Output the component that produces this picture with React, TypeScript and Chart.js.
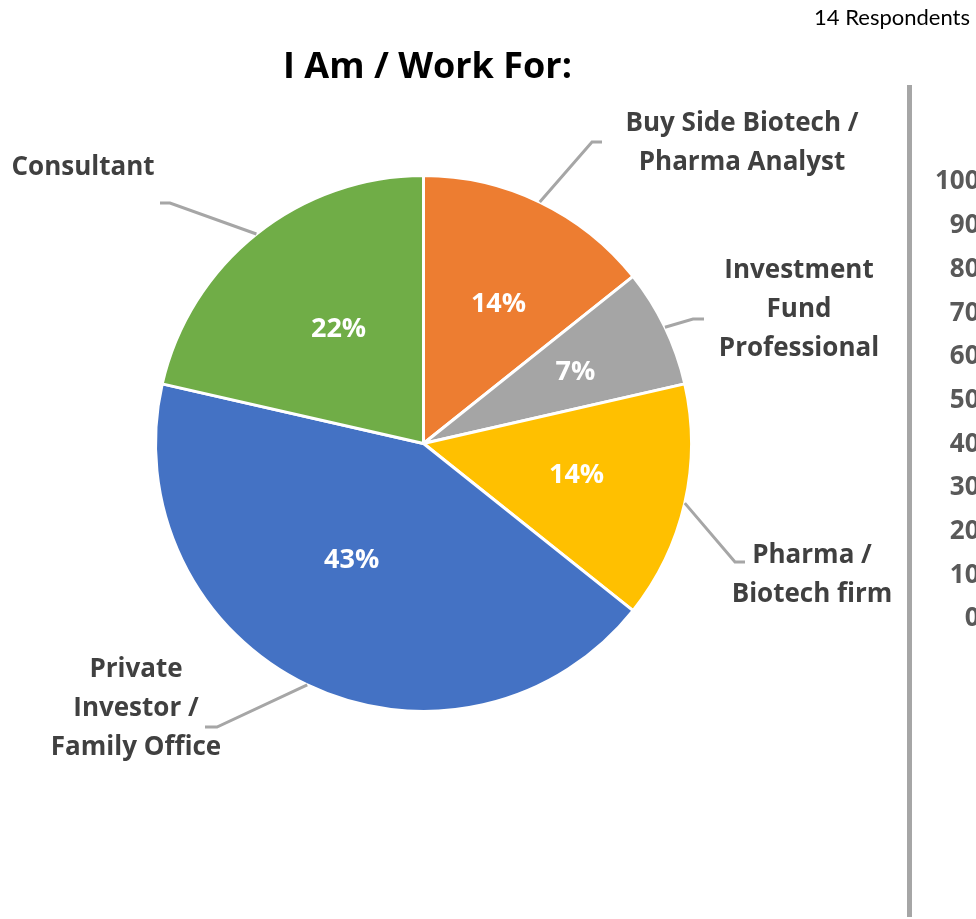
import React, { useEffect, useRef } from "react";
import { Chart, registerables } from "chart.js";

Chart.register(...registerables);

// ---------- data ----------
const categories = [
  "Buy Side Biotech / Pharma Analyst",
  "Investment Fund Professional",
  "Pharma / Biotech firm",
  "Private Investor / Family Office",
  "Consultant",
];
const categoryLines = [
  ["Buy Side Biotech /", "Pharma Analyst"],
  ["Investment", "Fund", "Professional"],
  ["Pharma /", "Biotech firm"],
  ["Private", "Investor /", "Family Office"],
  ["Consultant"],
];
const respondentCounts = [2, 1, 2, 6, 3];
const percentLabels = ["14%", "7%", "14%", "43%", "22%"];
const sliceColors = ["#ED7D31", "#A5A5A5", "#FFC000", "#4472C4", "#70AD47"];
const titleText = "I Am / Work For:";
const respondentsText = "14 Respondents";
const axisMin = 0;
const axisMax = 100;
const axisStep = 10;

// ---------- layout / style ----------
const BOLD_FONT = "'Open Sans', Lato, sans-serif";
const REG_FONT = "Lato, 'Open Sans', sans-serif";
const LABEL_SIZE = 26;
const PCT_SIZE = 27;
const CAP = 0.357;
const LINE_GAP = 39;
const labelLayout = [
  { cx: 742, capMid: 121.5, elbow: [592, 142], end: [602, 142] },
  { cx: 799, capMid: 268.5, elbow: [693, 319], end: [704, 319] },
  { cx: 812, capMid: 554, elbow: [735, 562], end: [745, 562] },
  { cx: 136, capMid: 668, elbow: [217, 727], end: [205, 727] },
  { cx: 83, capMid: 166, elbow: [170, 203], end: [160, 203] },
];
const pctLayout = [
  { f: 0.596, da: 2.3 },
  { f: 0.629, da: 0.1 },
  { f: 0.582, da: -1.8 },
  { f: 0.506, da: 6.3 },
  { f: 0.537, da: 2.4 },
];

const overlayPlugin = {
  id: "overlay",
  afterDatasetsDraw(chart: any) {
    const ctx = chart.ctx as CanvasRenderingContext2D;
    const meta = chart.getDatasetMeta(0);
    ctx.save();
    meta.data.forEach((arc: any, i: number) => {
      const p = arc.getProps(["x", "y", "startAngle", "endAngle", "outerRadius"], true);
      const mid = (p.startAngle + p.endAngle) / 2;
      const L = labelLayout[i];
      // leader line
      ctx.beginPath();
      ctx.strokeStyle = "#A6A6A6";
      ctx.lineWidth = 3;
      ctx.lineJoin = "miter";
      ctx.moveTo(p.x + Math.cos(mid) * p.outerRadius, p.y + Math.sin(mid) * p.outerRadius);
      ctx.lineTo(L.elbow[0], L.elbow[1]);
      ctx.lineTo(L.end[0], L.end[1]);
      ctx.stroke();
      // percentage label
      const P = pctLayout[i];
      const a = mid + (P.da * Math.PI) / 180;
      const r = P.f * p.outerRadius;
      ctx.fillStyle = "#FFFFFF";
      ctx.font = `bold ${PCT_SIZE}px ${BOLD_FONT}`;
      ctx.textAlign = "center";
      ctx.textBaseline = "alphabetic";
      ctx.fillText(percentLabels[i], p.x + Math.cos(a) * r, p.y + Math.sin(a) * r + CAP * PCT_SIZE);
      // category label
      ctx.fillStyle = "#404040";
      ctx.font = `bold ${LABEL_SIZE}px ${BOLD_FONT}`;
      categoryLines[i].forEach((line, j) => {
        ctx.fillText(line, L.cx, L.capMid + j * LINE_GAP + CAP * LABEL_SIZE);
      });
    });
    // title
    ctx.fillStyle = "#000000";
    ctx.font = `bold 36px ${BOLD_FONT}`;
    ctx.textAlign = "center";
    ctx.fillText(titleText, 427.5, 78);
    // respondents
    ctx.font = `22px ${REG_FONT}`;
    ctx.textAlign = "right";
    ctx.fillText(respondentsText, 970, 25);
    // separator line
    ctx.fillStyle = "#A6A6A6";
    ctx.fillRect(907, 85, 5, 832);
    ctx.restore();
  },
};

export default function App() {
  const pieRef = useRef<HTMLCanvasElement>(null);
  const axisRef = useRef<HTMLCanvasElement>(null);

  useEffect(() => {
    const pie = new Chart(pieRef.current!, {
      type: "pie",
      data: {
        labels: categories,
        datasets: [
          {
            data: respondentCounts,
            backgroundColor: sliceColors,
            borderColor: "#FFFFFF",
            borderWidth: 3,
          },
        ],
      },
      options: {
        responsive: false,
        animation: false,
        events: [],
        layout: { padding: { left: 154, right: 283, top: 174, bottom: 206 } },
        plugins: { legend: { display: false }, tooltip: { enabled: false } },
      },
      plugins: [overlayPlugin],
    });

    const axis = new Chart(axisRef.current!, {
      type: "bar",
      data: { labels: [""], datasets: [{ data: [] }] },
      options: {
        responsive: false,
        animation: false,
        events: [],
        layout: { padding: { left: 0, right: 0, top: 182, bottom: 300 } },
        plugins: { legend: { display: false }, tooltip: { enabled: false } },
        scales: {
          x: { display: false },
          y: {
            min: axisMin,
            max: axisMax,
            ticks: {
              stepSize: axisStep,
              color: "#595959",
              padding: 0,
              font: { family: BOLD_FONT, size: 26, weight: "bold" },
            },
            grid: { display: false },
            border: { display: false },
          },
        },
      },
    });

    return () => {
      pie.destroy();
      axis.destroy();
    };
  }, []);

  return (
    <div
      style={{
        position: "absolute",
        left: 0,
        top: 0,
        width: 976,
        height: 919,
        overflow: "hidden",
        background: "#FFFFFF",
      }}
    >
      <canvas
        ref={pieRef}
        width={976}
        height={919}
        style={{ position: "absolute", left: 0, top: 0, width: 976, height: 919 }}
      />
      <canvas
        ref={axisRef}
        width={120}
        height={919}
        style={{ position: "absolute", left: 935, top: 0, width: 120, height: 919 }}
      />
    </div>
  );
}
